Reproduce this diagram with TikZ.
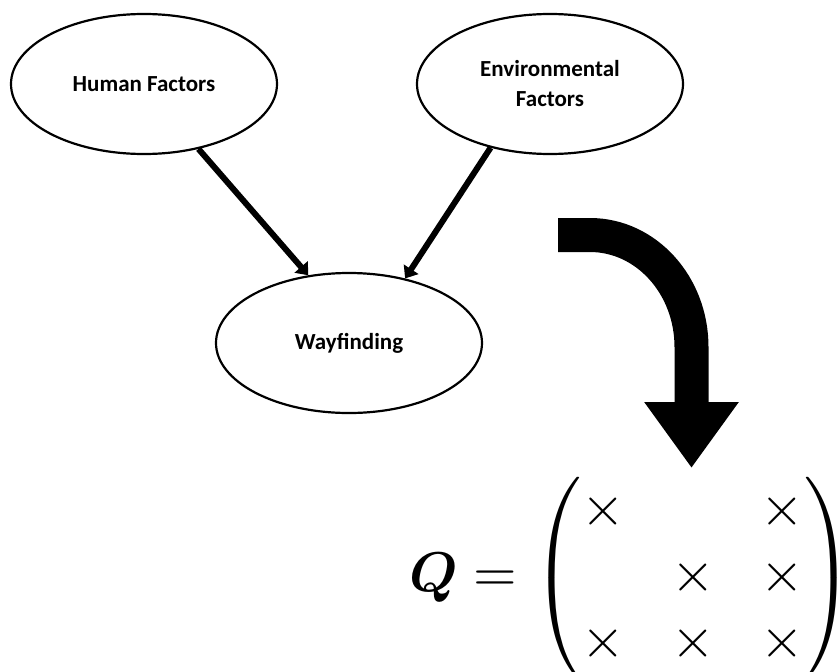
\documentclass[tikz,border=0pt]{standalone}
\usepackage{amsmath,bm}
\usepackage{graphicx}
\usepackage{fontspec}
\newfontfamily\labelfont{Carlito}
\usepackage{tikz}
\usetikzlibrary{shapes.geometric}
\usetikzlibrary{arrows.meta}
\usetikzlibrary{positioning}

\begin{document}
\begin{tikzpicture}[x=1pt, y=1pt,
		factor/.style={ellipse, draw, line width=2.2pt, inner sep=0pt, minimum width=266pt, minimum height=140pt, align=center, font=\labelfont\bfseries\fontsize{23}{30}\selectfont},
		link/.style={line width=6pt, -{Triangle[length=11pt, width=17pt]}},
		turn/.style={line width=34pt, -{Triangle[length=66pt, width=90pt]}}]
			\useasboundingbox (0,0) rectangle (838,-672);
			% Nodes
			\node[factor] (hf) at (144,-84) {Human Factors};
			\node[factor] (ef) at (550,-84) {Environmental\\Factors};
			\node[factor] (wf) at (349,-343) {Wayfinding};
			% Edges
			\draw[link] (hf.310) -- (wf.121);
			\draw[link] (ef.227) -- (wf.49);
			
			% Matrix
			\node[inner sep=0pt] (mat) at (693,-578) {\scalebox{5.6}{\fontsize{10}{11.8}\selectfont\setlength{\arraycolsep}{4.1pt}$\begin{pmatrix} \times & & \times\\ & \times & \times\\ \times & \times & \times \end{pmatrix}$}};
			\node[inner sep=0pt, left=0pt of mat] (q) {\scalebox{5.6}{$\bm{Q} = {}$}};
			
			\coordinate (from) at (558,-235);
			\coordinate (to) at (691.5,-468);
			\draw[turn] (from) -- ++(32,0) arc[start angle=90, end angle=0, x radius=101.5, y radius=112] -- (to);
			
		\end{tikzpicture}
\end{document}
